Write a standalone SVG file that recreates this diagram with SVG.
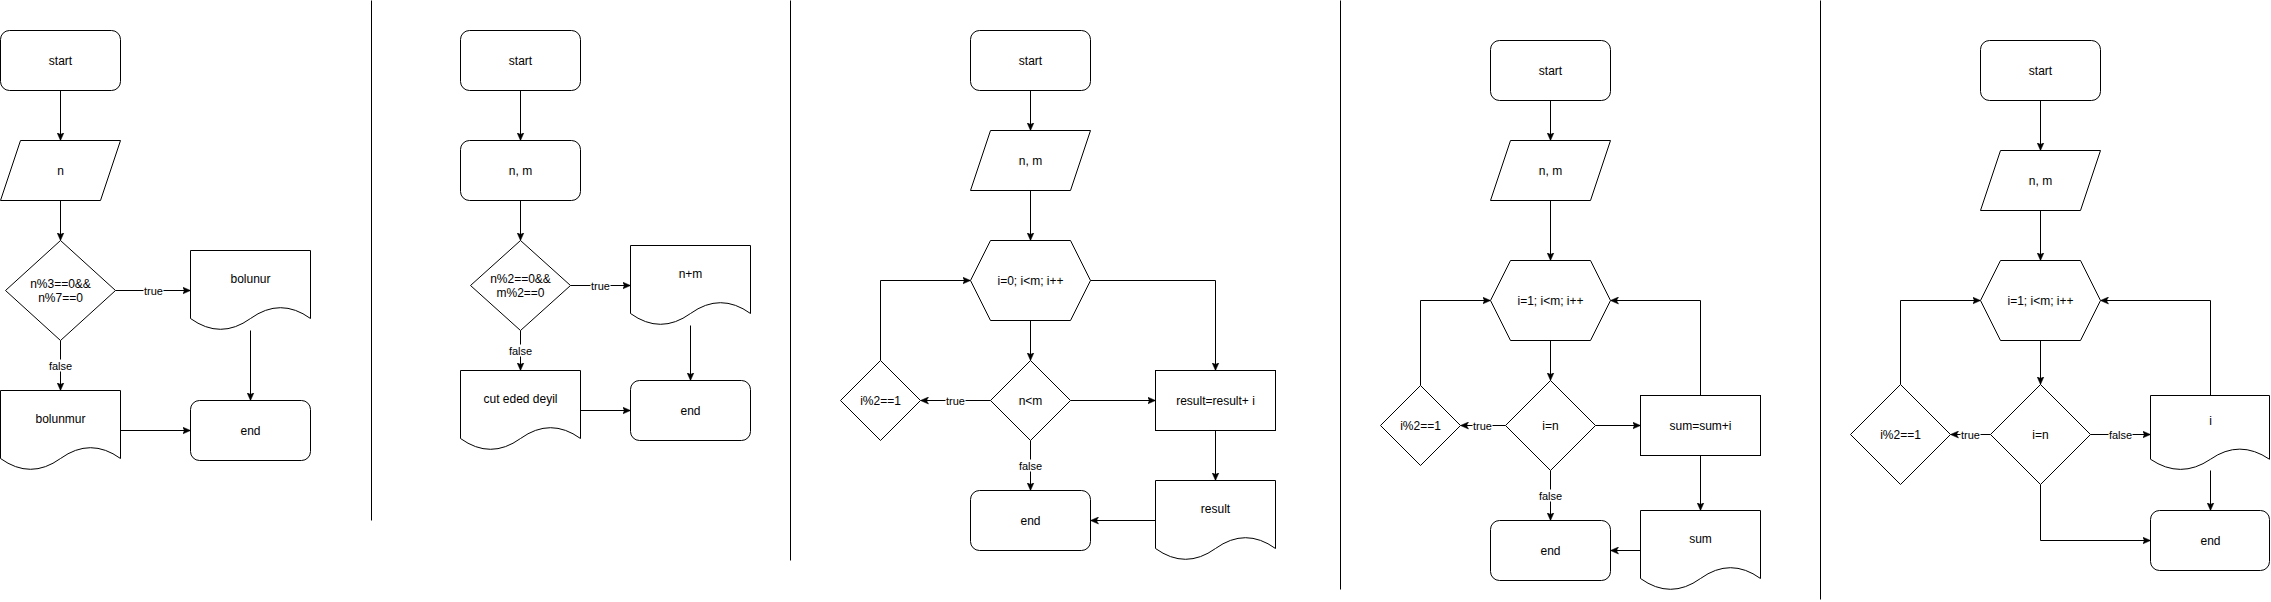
<svg xmlns="http://www.w3.org/2000/svg" width="2271" height="602" viewBox="0 0 2271 602">
<style>
.n{fill:#fff;stroke:#000;stroke-width:1}
.c{fill:none;stroke:#000;stroke-width:1}
.sep{fill:none;stroke:#000;stroke-width:1}
.t{font-family:"Liberation Sans",Arial,Helvetica,sans-serif;font-size:12px;fill:#000;text-anchor:middle}
.l{font-family:"Liberation Sans",Arial,Helvetica,sans-serif;font-size:11px;fill:#000;text-anchor:middle}
.lb{fill:#fff;stroke:none}
</style>
<defs>
<marker id="arr" viewBox="0 0 8 8" refX="8" refY="4" markerWidth="8" markerHeight="8" markerUnits="userSpaceOnUse" orient="auto">
<path d="M0,0.5 L8,4 L0,7.5 L2,4 Z" fill="#000" stroke="#000" stroke-width="0.5"/>
</marker>
</defs>
<rect x="0" y="0" width="2271" height="602" fill="#fff"/>
<g transform="translate(0.5,0.5)">
<g id="separators">
<line class="sep" x1="371" y1="0" x2="371" y2="520"/>
<line class="sep" x1="790" y1="0" x2="790" y2="560"/>
<line class="sep" x1="1340" y1="0" x2="1340" y2="589"/>
<line class="sep" x1="1820" y1="0" x2="1820" y2="599"/>
</g>

<g id="connectors">
<!-- panel 1 -->
<path class="c" d="M60,90 L60,140" marker-end="url(#arr)"/>
<path class="c" d="M60,200 L60,240" marker-end="url(#arr)"/>
<path class="c" d="M115,290 L190,290" marker-end="url(#arr)"/>
<path class="c" d="M60,340 L60,390" marker-end="url(#arr)"/>
<path class="c" d="M250,330 L250,400" marker-end="url(#arr)"/>
<path class="c" d="M120,430 L190,430" marker-end="url(#arr)"/>
<!-- panel 2 -->
<path class="c" d="M520,90 L520,140" marker-end="url(#arr)"/>
<path class="c" d="M520,200 L520,240" marker-end="url(#arr)"/>
<path class="c" d="M570,285 L630,285" marker-end="url(#arr)"/>
<path class="c" d="M520,330 L520,370" marker-end="url(#arr)"/>
<path class="c" d="M690,325 L690,380" marker-end="url(#arr)"/>
<path class="c" d="M580,410 L630,410" marker-end="url(#arr)"/>
<!-- panel 3 -->
<path class="c" d="M1030,90 L1030,130" marker-end="url(#arr)"/>
<path class="c" d="M1030,190 L1030,240" marker-end="url(#arr)"/>
<path class="c" d="M1030,320 L1030,360" marker-end="url(#arr)"/>
<path class="c" d="M990,400 L920,400" marker-end="url(#arr)"/>
<path class="c" d="M880,360 L880,280 L970,280" marker-end="url(#arr)"/>
<path class="c" d="M1090,280 L1215,280 L1215,370" marker-end="url(#arr)"/>
<path class="c" d="M1070,400 L1155,400" marker-end="url(#arr)"/>
<path class="c" d="M1215,430 L1215,480" marker-end="url(#arr)"/>
<path class="c" d="M1155,520 L1090,520" marker-end="url(#arr)"/>
<path class="c" d="M1030,440 L1030,490" marker-end="url(#arr)"/>
<!-- panel 4 -->
<path class="c" d="M1550,100 L1550,140" marker-end="url(#arr)"/>
<path class="c" d="M1550,200 L1550,260" marker-end="url(#arr)"/>
<path class="c" d="M1550,340 L1550,380" marker-end="url(#arr)"/>
<path class="c" d="M1505,425 L1460,425" marker-end="url(#arr)"/>
<path class="c" d="M1420,385 L1420,300 L1490,300" marker-end="url(#arr)"/>
<path class="c" d="M1595,425 L1640,425" marker-end="url(#arr)"/>
<path class="c" d="M1700,395 L1700,300 L1610,300" marker-end="url(#arr)"/>
<path class="c" d="M1700,455 L1700,510" marker-end="url(#arr)"/>
<path class="c" d="M1640,550 L1610,550" marker-end="url(#arr)"/>
<path class="c" d="M1550,470 L1550,520" marker-end="url(#arr)"/>
<!-- panel 5 -->
<path class="c" d="M2040,100 L2040,150" marker-end="url(#arr)"/>
<path class="c" d="M2040,210 L2040,260" marker-end="url(#arr)"/>
<path class="c" d="M2040,340 L2040,384" marker-end="url(#arr)"/>
<path class="c" d="M1990,434 L1950,434" marker-end="url(#arr)"/>
<path class="c" d="M1900,384 L1900,300 L1980,300" marker-end="url(#arr)"/>
<path class="c" d="M2090,434 L2150,434" marker-end="url(#arr)"/>
<path class="c" d="M2210,395 L2210,300 L2100,300" marker-end="url(#arr)"/>
<path class="c" d="M2210,470 L2210,510" marker-end="url(#arr)"/>
<path class="c" d="M2040,484 L2040,540 L2150,540" marker-end="url(#arr)"/>
<!-- edge labels -->
<rect class="lb" x="143" y="284" width="20" height="12"/><text class="l" x="153" y="294">true</text>
<rect class="lb" x="48" y="359" width="24" height="12"/><text class="l" x="60" y="369">false</text>
<rect class="lb" x="590" y="279" width="20" height="12"/><text class="l" x="600" y="289">true</text>
<rect class="lb" x="508" y="344" width="24" height="12"/><text class="l" x="520" y="354">false</text>
<rect class="lb" x="945" y="394" width="20" height="12"/><text class="l" x="955" y="404">true</text>
<rect class="lb" x="1018" y="459" width="24" height="12"/><text class="l" x="1030" y="469">false</text>
<rect class="lb" x="1472" y="419" width="20" height="12"/><text class="l" x="1482" y="429">true</text>
<rect class="lb" x="1538" y="489" width="24" height="12"/><text class="l" x="1550" y="499">false</text>
<rect class="lb" x="1960" y="428" width="20" height="12"/><text class="l" x="1970" y="438">true</text>
<rect class="lb" x="2108" y="428" width="24" height="12"/><text class="l" x="2120" y="438">false</text>
</g>

<!-- panel 1 nodes -->
<g id="p1-start"><rect class="n" x="0" y="30" width="120" height="60" rx="9"/><text class="t" x="60" y="64">start</text></g>
<g id="p1-input"><path class="n" d="M20,140 L120,140 L100,200 L0,200 Z"/><text class="t" x="60" y="174">n</text></g>
<g id="p1-cond"><path class="n" d="M60,240 L115,290 L60,340 L5,290 Z"/><text class="t" x="60" y="287">n%3==0&amp;&amp;</text><text class="t" x="60" y="301">n%7==0</text></g>
<g id="p1-bolunur"><path class="n" d="M190,250 L310,250 L310,318 Q280,296.4 250,318 Q220,339.6 190,318 Z"/><text class="t" x="250" y="282">bolunur</text></g>
<g id="p1-end"><rect class="n" x="190" y="400" width="120" height="60" rx="9"/><text class="t" x="250" y="434">end</text></g>
<g id="p1-bolunmur"><path class="n" d="M0,390 L120,390 L120,458 Q90,436.4 60,458 Q30,479.6 0,458 Z"/><text class="t" x="60" y="422">bolunmur</text></g>

<!-- panel 2 nodes -->
<g id="p2-start"><rect class="n" x="460" y="30" width="120" height="60" rx="9"/><text class="t" x="520" y="64">start</text></g>
<g id="p2-input"><rect class="n" x="460" y="140" width="120" height="60" rx="9"/><text class="t" x="520" y="174">n, m</text></g>
<g id="p2-cond"><path class="n" d="M520,240 L570,285 L520,330 L470,285 Z"/><text class="t" x="520" y="282">n%2==0&amp;&amp;</text><text class="t" x="520" y="296">m%2==0</text></g>
<g id="p2-sum"><path class="n" d="M630,245 L750,245 L750,313 Q720,291.4 690,313 Q660,334.6 630,313 Z"/><text class="t" x="690" y="277">n+m</text></g>
<g id="p2-end"><rect class="n" x="630" y="380" width="120" height="60" rx="9"/><text class="t" x="690" y="414">end</text></g>
<g id="p2-notEven"><path class="n" d="M460,370 L580,370 L580,438 Q550,416.4 520,438 Q490,459.6 460,438 Z"/><text class="t" x="520" y="402">cut eded deyil</text></g>

<!-- panel 3 nodes -->
<g id="p3-start"><rect class="n" x="970" y="30" width="120" height="60" rx="9"/><text class="t" x="1030" y="64">start</text></g>
<g id="p3-input"><path class="n" d="M990,130 L1090,130 L1070,190 L970,190 Z"/><text class="t" x="1030" y="164">n, m</text></g>
<g id="p3-loop"><path class="n" d="M990,240 L1070,240 L1090,280 L1070,320 L990,320 L970,280 Z"/><text class="t" x="1030" y="284">i=0; i&lt;m; i++</text></g>
<g id="p3-cond"><path class="n" d="M1030,360 L1070,400 L1030,440 L990,400 Z"/><text class="t" x="1030" y="404">n&lt;m</text></g>
<g id="p3-odd"><path class="n" d="M880,360 L920,400 L880,440 L840,400 Z"/><text class="t" x="880" y="404">i%2==1</text></g>
<g id="p3-add"><rect class="n" x="1155" y="370" width="120" height="60"/><text class="t" x="1215" y="404">result=result+ i</text></g>
<g id="p3-result"><path class="n" d="M1155,480 L1275,480 L1275,548 Q1245,526.4 1215,548 Q1185,569.6 1155,548 Z"/><text class="t" x="1215" y="512">result</text></g>
<g id="p3-end"><rect class="n" x="970" y="490" width="120" height="60" rx="9"/><text class="t" x="1030" y="524">end</text></g>

<!-- panel 4 nodes -->
<g id="p4-start"><rect class="n" x="1490" y="40" width="120" height="60" rx="9"/><text class="t" x="1550" y="74">start</text></g>
<g id="p4-input"><path class="n" d="M1510,140 L1610,140 L1590,200 L1490,200 Z"/><text class="t" x="1550" y="174">n, m</text></g>
<g id="p4-loop"><path class="n" d="M1510,260 L1590,260 L1610,300 L1590,340 L1510,340 L1490,300 Z"/><text class="t" x="1550" y="304">i=1; i&lt;m; i++</text></g>
<g id="p4-cond"><path class="n" d="M1550,380 L1595,425 L1550,470 L1505,425 Z"/><text class="t" x="1550" y="429">i=n</text></g>
<g id="p4-odd"><path class="n" d="M1420,385 L1460,425 L1420,465 L1380,425 Z"/><text class="t" x="1420" y="429">i%2==1</text></g>
<g id="p4-add"><rect class="n" x="1640" y="395" width="120" height="60"/><text class="t" x="1700" y="429">sum=sum+i</text></g>
<g id="p4-sum"><path class="n" d="M1640,510 L1760,510 L1760,578 Q1730,556.4 1700,578 Q1670,599.6 1640,578 Z"/><text class="t" x="1700" y="542">sum</text></g>
<g id="p4-end"><rect class="n" x="1490" y="520" width="120" height="60" rx="9"/><text class="t" x="1550" y="554">end</text></g>

<!-- panel 5 nodes -->
<g id="p5-start"><rect class="n" x="1980" y="40" width="120" height="60" rx="9"/><text class="t" x="2040" y="74">start</text></g>
<g id="p5-input"><path class="n" d="M2000,150 L2100,150 L2080,210 L1980,210 Z"/><text class="t" x="2040" y="184">n, m</text></g>
<g id="p5-loop"><path class="n" d="M2000,260 L2080,260 L2100,300 L2080,340 L2000,340 L1980,300 Z"/><text class="t" x="2040" y="304">i=1; i&lt;m; i++</text></g>
<g id="p5-cond"><path class="n" d="M2040,384 L2090,434 L2040,484 L1990,434 Z"/><text class="t" x="2040" y="438">i=n</text></g>
<g id="p5-odd"><path class="n" d="M1900,384 L1950,434 L1900,484 L1850,434 Z"/><text class="t" x="1900" y="438">i%2==1</text></g>
<g id="p5-out"><path class="n" d="M2150,395 L2269,395 L2269,458.75 Q2239,438.5 2210,458.75 Q2180,479 2150,458.75 Z"/><text class="t" x="2210" y="424">i</text></g>
<g id="p5-end"><rect class="n" x="2150" y="510" width="119" height="60" rx="9"/><text class="t" x="2210" y="544">end</text></g>
</g>
</svg>
